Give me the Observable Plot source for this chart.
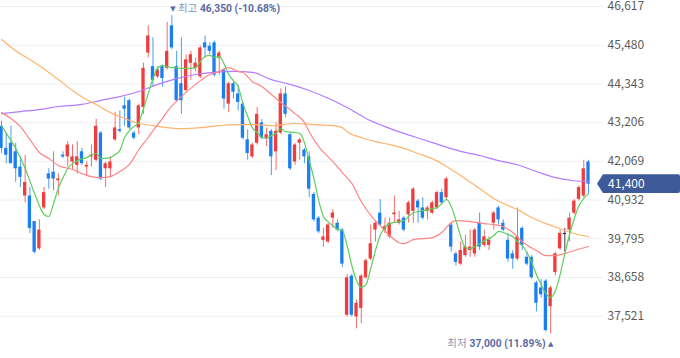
<!DOCTYPE html>
<html><head><meta charset="utf-8">
<script src="https://cdn.jsdelivr.net/npm/d3@7"></script>
<script src="https://cdn.jsdelivr.net/npm/@observablehq/plot@0.6"></script>
<style>
body{margin:0;background:#fff;}
#chart{width:680px;height:358px;overflow:hidden;}
</style></head><body><div id="chart"></div>
<script>
// Daily OHLC (KRW), 125 sessions
const open = [
43100,42450,42600,42350,41900,41050,41050,40300,39500,40700,
41700,41750,41500,42250,42200,42050,41950,42350,41900,42200,
42100,42900,41850,41850,42700,43000,43700,43850,42900,43050,
43650,45250,44850,44550,44850,44800,46050,44850,44350,44150,
44950,44800,44550,45550,45450,45550,45100,44750,43750,44350,
44050,43750,42700,42200,42600,43200,42750,42950,42350,42900,
44050,42850,42050,42600,42400,42200,41100,40400,39750,39700,
40400,40250,40050,37550,38700,37500,37750,38650,39200,40050,
40550,40050,39850,40500,40250,40400,40500,40600,40900,40700,
40600,40550,40700,41150,41000,40200,39350,39050,39300,39450,
39350,40250,39600,39600,40250,40700,40250,39750,39350,39200,
40100,39250,39250,38500,38350,38550,37800,38800,39500,39950,
40050,40550,40950,41050,42050];
const close = [
42450,42250,42000,41850,41600,41450,40100,39400,40050,41150,
41550,41550,41550,42200,42550,42200,42200,42000,41950,42250,
43100,41550,42000,42050,43050,42950,43600,43050,42750,43700,
44800,45750,44450,44750,44500,45300,45400,43850,43850,45050,
45200,44950,45400,45400,45300,44600,45250,43900,44350,44100,
43800,42750,42300,42550,43450,42750,42850,42200,42950,44050,
43450,41850,42550,42700,42200,41250,40350,40000,39850,40200,
40550,40050,39050,38650,37550,37900,38700,39150,39650,40250,
40200,40150,40250,40550,40350,40050,40850,41250,40700,40400,
40700,40850,41150,40850,41550,39550,39100,39450,39550,39550,
40050,39550,39850,39750,40550,40350,40050,39200,39200,39850,
39600,39050,38650,37900,38150,37100,38350,39350,39950,39950,
40400,40900,41300,41850,41400];
const high = [
43250,42900,43100,42600,42200,42250,41300,40300,40350,41300,
41850,42350,41700,42350,42650,42550,42650,42450,42050,42550,
43300,42950,42050,42200,43500,43550,43950,43900,42950,43750,
44950,46050,45700,44850,44900,46150,46350,45300,45700,45200,
45300,45100,45450,45750,45550,45600,45300,44800,44400,44400,
44300,43800,43000,42600,43650,43300,43050,43000,43200,44200,
44250,42900,42600,42750,42450,42350,41150,40450,40100,40250,
40650,40350,40100,38750,38750,38000,38750,39200,40200,40300,
40950,40400,40400,41050,40600,40450,40900,41300,40950,41000,
40750,40900,41200,41250,41600,40250,39400,39700,39900,40050,
40100,40550,40050,39850,40600,40750,40350,39950,39450,40700,
40150,39400,39300,38550,38600,38600,38400,39400,40050,40100,
40550,40950,41350,42100,42100];
const low = [
42300,42000,42000,41450,41300,40850,39950,39350,39450,40650,
41250,41200,41050,42150,41900,41800,41700,41950,41650,41900,
42050,41500,41300,41600,42650,42900,43100,43000,42700,42850,
43450,45100,44250,44500,44250,44750,45350,43800,43450,44100,
44450,44700,44500,45100,45200,44550,44600,43600,43500,43900,
43550,42700,42100,42150,42550,42700,42500,41650,41800,42850,
43350,41800,41950,42100,42000,41000,40300,39950,39550,39650,
40100,40000,38950,37500,37500,37150,37300,38600,39150,39700,
40150,39950,39800,40250,40200,40000,40250,40250,40250,40350,
40350,40500,40650,40800,40950,39400,39000,39000,39250,39250,
39250,39450,39550,39450,40050,40200,40000,39100,38900,39150,
39450,39000,38600,37650,38050,37050,37000,38700,39450,39400,
39700,40500,40900,41000,41100];

// Moving averages (session index, price)
const ma5Idx = [0,2,3,5,7,9,10,11,12,13,14,16,18,20,21,23,24,25,26,27,28,29,
30,31,32,33,34,35,36,38,
40,41,42,43,44,45,46,47,48,49,50,51,52,53,54,55,56,57,58,59,60,
62,63,64,65,66,67,68,69,70,71,72,73,74,75,76,77,78,79,80,81,82,
84,85,86,87,88,89,
91,92,93,94,95,96,97,98,99,100,101,102,103,104,105,106,107,108,109,110,111,112,113,114,115,116,117,118,119,120,121,122,123,124];
const ma5 = [43120,42680,42450,41860,41120,40510,40450,40830,41270,41590,41860,42090,42180,42300,42150,42180,42270,42390,42770,42970,43090,43210,
43620,44060,44500,44820,44880,44850,44820,44800,
44800,44820,45000,45150,45180,45120,45150,44940,44620,44440,44270,43770,43390,43060,42920,42770,42740,42830,42890,43030,42940,
42920,42890,42620,42090,41560,40920,40450,40300,40180,40070,40040,39600,39010,38570,38360,38450,38920,39450,39890,40120,40240,
40300,40330,40450,40560,40590,40620,
40680,40710,40830,40950,40740,40330,39860,39540,39510,39570,39650,39740,39800,39890,40010,39980,39920,39860,39710,39600,39390,39100,38740,38450,38190,38070,38270,38740,39360,39920,40390,40770,40980,41120];
const ma20Idx = [0,2,4,6,8,10,12,15,17,19,21,23,25,27,28,29,31,32,34,35,38,41,44,46,48,50,51,53,55,57,59,62,64,65,67,70,72,74,76,78,80,82,84,85,87,89,91,93,95,96,99,102,104,106,108,110,113,115,117,119,121,124];
const ma20 = [43500,43330,43090,42710,42330,42150,41950,41830,41710,41620,41590,41620,41770,41980,42180,42410,42770,42970,43330,43530,43970,44330,44620,44710,44820,44710,44680,44410,44270,44030,43800,43470,43210,42940,42500,42060,41740,41420,40890,40480,40180,39890,39680,39650,39770,39800,39830,39980,40270,40330,40300,40240,40210,40150,39980,39710,39450,39300,39300,39360,39450,39570];
const ma60Idx = [0,3,7,12,15,18,20,23,26,29,32,35,38,42,46,49,54,57,62,66,70,72,73,76,79,82,85,88,91,94,98,101,104,107,109,112,115,118,121,124];
const ma60 = [45650,45320,44970,44470,44150,43880,43740,43500,43330,43180,43120,43060,43030,43060,43120,43150,43150,43120,43180,43150,43120,43060,42940,42770,42650,42560,42450,42300,42150,41920,41560,41270,40980,40770,40650,40420,40240,40090,39950,39860];
const ma120Idx = [0,4,8,12,17,21,25,29,33,37,41,45,49,53,57,61,65,69,73,77,81,85,89,93,97,101,105,109,113,117,121,124];
const ma120 = [43470,43530,43590,43680,43740,43860,43970,44120,44330,44500,44620,44680,44710,44680,44470,44330,44150,43920,43650,43330,43090,42890,42710,42530,42360,42240,42090,41970,41770,41590,41500,41480];

const yTicks = [37521,38658,39795,40932,42069,43206,44343,45480,46617];

const UP = "#ef3d3d", DOWN = "#1b7ff1", FLAT = "#333333";
const UPW = "#f36c6c", DOWNW = "#4d9bf4", FLATW = "#444444";

const candles = close.map((c, i) => ({
  i, o: open[i], h: high[i], l: low[i], c,
  dir: c > open[i] ? "up" : c < open[i] ? "down" : "flat"
}));
const bodyColor = d => d.dir === "up" ? UP : d.dir === "down" ? DOWN : FLAT;
const wickColor = d => d.dir === "up" ? UPW : d.dir === "down" ? DOWNW : FLATW;
const rows = (idx, vals) => idx.map((i, k) => ({i, v: vals[k]}));

const fmt = d3.format(",");
const last = close[close.length - 1];
const hiI = d3.maxIndex(high), loI = d3.minIndex(low);
const hiPt = [{i: hiI, v: high[hiI]}];
const loPt = [{i: loI, v: low[loI]}];
const pct = v => { const p = (last / v - 1) * 100; return (p > 0 ? "" : "-") + Math.abs(p).toFixed(2) + "%"; };

const FONT = '"Noto Sans CJK KR","Noto Sans",sans-serif';
const NUMFONT = 'Roboto,"Noto Sans",sans-serif';

const chart = Plot.plot({
  width: 680, height: 358,
  marginLeft: 0, marginRight: 92, marginTop: 0, marginBottom: 0,
  style: {fontFamily: FONT, fontSize: "12px", background: "#fff"},
  x: {type: "linear", domain: [0, 124], range: [1, 588], axis: null},
  y: {type: "linear", domain: [37521, 46617], range: [315.7, 6], axis: null},
  marks: [
    Plot.ruleY(yTicks, {stroke: "#eef0f5", strokeWidth: 1, insetLeft: -1, insetRight: -15}),
    Plot.axisY(yTicks, {anchor: "right", tickSize: 0, tickPadding: 19, tickFormat: fmt, fill: "#5c5c5c", fontSize: 12}),
    Plot.ruleX(candles, {x: "i", y1: "l", y2: "h", stroke: wickColor, strokeWidth: 1}),
    Plot.rect(candles, {x1: d => d.i - 0.35, x2: d => d.i + 0.35, y1: "o", y2: "c", fill: bodyColor}),
    Plot.ruleY(candles.filter(d => d.dir === "flat"), {x1: d => d.i - 0.35, x2: d => d.i + 0.35, y: "c", stroke: FLAT, strokeWidth: 1.2}),
    Plot.line(rows(ma120Idx, ma120), {x: "i", y: "v", stroke: "#b47cfc", strokeWidth: 1.2, curve: "monotone-x"}),
    Plot.line(rows(ma60Idx, ma60), {x: "i", y: "v", stroke: "#ffb46e", strokeWidth: 1.2, curve: "monotone-x"}),
    Plot.line(rows(ma20Idx, ma20), {x: "i", y: "v", stroke: "#ff8585", strokeWidth: 1.2, curve: "monotone-x"}),
    Plot.line(rows(ma5Idx, ma5), {x: "i", y: "v", stroke: "#5ccf5c", strokeWidth: 1.2, curve: "monotone-x"}),
    // high annotation
    Plot.text(hiPt, {x: "i", y: "v", text: () => "▼", dx: 1, dy: -7, fontSize: 7, fill: "#5a6b9f", fontFamily: "DejaVu Sans"}),
    Plot.text(hiPt, {x: "i", y: "v", text: () => "최고", dx: 6, dy: -7, textAnchor: "start", fontSize: 10.5, fill: "#8c95b2"}),
    Plot.text(hiPt, {x: "i", y: "v", text: d => `${fmt(d.v)} (${pct(d.v)})`, dx: 28, dy: -7, textAnchor: "start", fontSize: 10.3, fontWeight: "bold", fontFamily: NUMFONT, fill: "#5a6b9f"}),
    // low annotation
    Plot.text(loPt, {x: "i", y: "v", text: () => "▲", dx: 0, dy: 9.5, fontSize: 7, fill: "#5a6b9f", fontFamily: "DejaVu Sans"}),
    Plot.text(loPt, {x: "i", y: "v", text: () => "최저", dx: -84, dy: 9.5, textAnchor: "end", fontSize: 10.5, fill: "#8c95b2"}),
    Plot.text(loPt, {x: "i", y: "v", text: d => `${fmt(d.v)} (${pct(d.v)})`, dx: -5, dy: 9.5, textAnchor: "end", fontSize: 10.3, fontWeight: "bold", fontFamily: NUMFONT, fill: "#5a6b9f"})
  ]
});

// current price tag on the right axis
const sx = chart.scale("x"), sy = chart.scale("y");
const svg = d3.select(chart);
const px = sx.apply(close.length - 1), py = sy.apply(last);
svg.append("path")
  .attr("d", `M${px + 9},${py} L${px + 15},${py - 9.3} H678 Q680,${py - 9.3} 680,${py - 7.3} V${py + 7.3} Q680,${py + 9.3} 678,${py + 9.3} H${px + 15} Z`)
  .attr("fill", "#3e5a98");
svg.append("text")
  .attr("x", px + 20).attr("y", py).attr("dy", "0.36em")
  .attr("text-anchor", "start")
  .attr("fill", "#fff").attr("font-size", 12).attr("font-family", FONT)
  .text(fmt(last));

document.getElementById("chart").appendChild(chart);
</script>
</body></html>
